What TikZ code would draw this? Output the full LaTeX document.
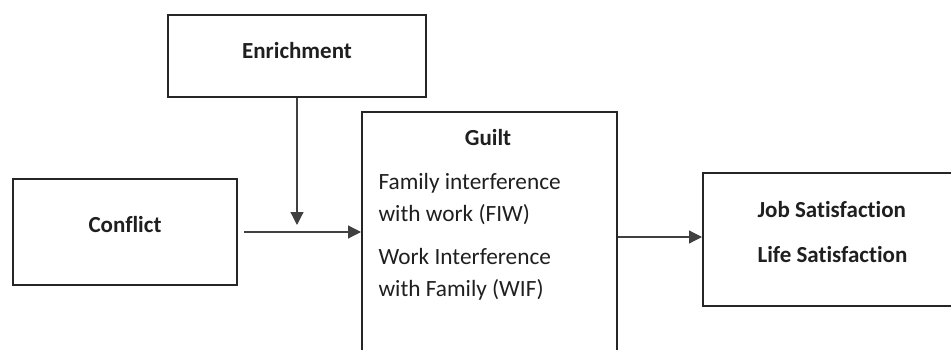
\documentclass[tikz,border=0pt]{standalone}
\usepackage{fontspec}
\setmainfont{Carlito}[Ligatures=NoCommon]
\usepackage{tikz}
\usetikzlibrary{arrows.meta}

\begin{document}
\begin{tikzpicture}[x=1pt,y=-1pt]
    \tikzstyle{every node}=[font=\fontsize{23.3}{32}\selectfont, text=black!88]
    \tikzstyle{box}=[draw=black!85, line width=2pt, inner sep=0pt]
    \tikzstyle{head}=[font=\fontsize{23}{32}\selectfont\bfseries]
    \tikzstyle{link}=[draw=black!75, line width=1.2pt,
        -{Triangle[length=13pt,width=13pt]}]
    \useasboundingbox (0,0) rectangle (951,350);

    % the four boxes
    \node[box, minimum width=258pt, minimum height=82pt] (enrich) at (297,56) {};
    \node[box, minimum width=224pt, minimum height=106pt] (conflict) at (125,232) {};
    \node[box, minimum width=255pt, minimum height=250pt] (guilt) at (489.5,237) {};
    \node[box, minimum width=258pt, minimum height=133pt] (outcome) at (832,239.5) {};

    % texts
    \node[head] (enrichtxt) at (297,51) {Enrichment};
    \node[head] (conflicttxt) at (125,225) {Conflict};
    \node[head] (guilttxt) at (488,138) {Guilt};
    \node[align=left, anchor=west] (guiltlist) at (375,236.5)
        {Family interference\\with work (FIW)\\[11pt]Work Interference\\with Family (WIF)};
    \node[head, align=left, anchor=west] (outcometxt) at (754,232.5)
        {Job Satisfaction\\[13pt]Life Satisfaction};

    % arrows
    \coordinate (meet) at (297,225);
    \draw[link] (enrich.south) -- (meet);
    \draw[link] ([xshift=6pt]conflict.east) -- (guilt.west |- conflict.east);
    \draw[link] (guilt.east) -- (outcome.west |- guilt.east);

\end{tikzpicture}
\end{document}
